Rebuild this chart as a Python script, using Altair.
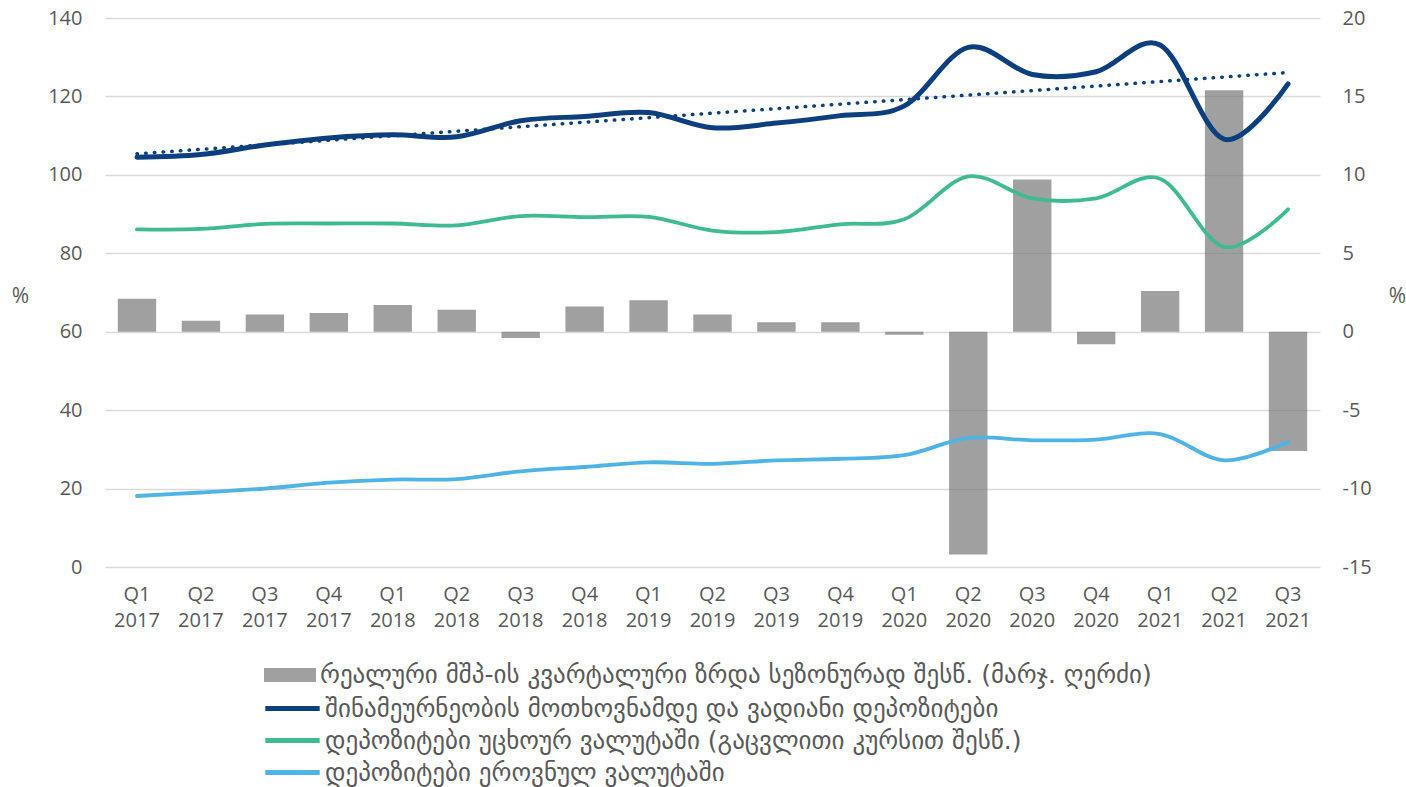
import altair as alt
import numpy as np
import pandas as pd

# Quarters on the horizontal axis
quarters = [
    "Q1 2017", "Q2 2017", "Q3 2017", "Q4 2017",
    "Q1 2018", "Q2 2018", "Q3 2018", "Q4 2018",
    "Q1 2019", "Q2 2019", "Q3 2019", "Q4 2019",
    "Q1 2020", "Q2 2020", "Q3 2020", "Q4 2020",
    "Q1 2021", "Q2 2021", "Q3 2021",
]

# Real GDP quarterly growth, seasonally adjusted (right axis, %)
gdp_growth = [2.1, 0.7, 1.1, 1.2, 1.7, 1.4, -0.4, 1.6, 2.0, 1.1,
              0.6, 0.6, -0.2, -14.2, 9.7, -0.8, 2.6, 15.4, -7.6]

# Deposit series (left axis, %)
dep_total = [104.5, 105.2, 107.6, 109.4, 110.2, 109.7, 113.8, 114.9, 115.9, 112.0,
             113.2, 115.1, 117.6, 132.5, 125.6, 126.3, 133.1, 109.1, 123.2]
dep_fx = [86.1, 86.2, 87.5, 87.6, 87.6, 87.1, 89.5, 89.2, 89.3, 85.8,
          85.4, 87.4, 88.7, 99.6, 94.0, 94.0, 99.0, 81.6, 91.2]
dep_gel = [18.1, 19.0, 20.0, 21.5, 22.3, 22.4, 24.4, 25.5, 26.7, 26.3,
           27.2, 27.6, 28.5, 32.9, 32.3, 32.5, 33.9, 27.2, 31.9]

bar_label = "რეალური მშპ-ის კვარტალური ზრდა სეზონურად შესწ. (მარჯ. ღერძი)"
line_labels = [
    "შინამეურნეობის მოთხოვნამდე და ვადიანი დეპოზიტები",
    "დეპოზიტები უცხოურ ვალუტაში (გაცვლითი კურსით შესწ.)",
    "დეპოზიტები ეროვნულ ვალუტაში",
]
line_colors = ["#0d3f7f", "#3fba93", "#4fb3e6"]

# Linear trend of the total deposits series
idx = np.arange(len(quarters))
slope, intercept = np.polyfit(idx, dep_total, 1)
trend = intercept + slope * idx

bars_df = pd.DataFrame({"quarter": quarters, "value": gdp_growth, "series": bar_label})
lines_df = pd.concat([
    pd.DataFrame({"quarter": quarters, "value": vals, "series": name, "order": i})
    for i, (name, vals) in enumerate(zip(line_labels, [dep_total, dep_fx, dep_gel]))
])
trend_df = pd.DataFrame({"quarter": quarters, "value": trend})

FONT = "Open Sans"
LEGEND_FONT = "DejaVu Sans"
TEXT = "#595959"

x_enc = alt.X(
    "quarter:N",
    sort=quarters,
    scale=alt.Scale(paddingInner=0.4, paddingOuter=0.2),
    axis=alt.Axis(
        title=None, ticks=False, domain=False, grid=False,
        labelAngle=0, labelPadding=17, labelFontSize=20, labelLineHeight=26,
        labelColor=TEXT, labelFont=FONT,
        labelExpr="split(datum.label, ' ')",
    ),
)

bars = alt.Chart(bars_df).mark_bar(opacity=0.72).encode(
    x=x_enc,
    y=alt.Y(
        "value:Q",
        scale=alt.Scale(domain=[-15, 20], nice=False),
        axis=alt.Axis(
            orient="right", values=list(range(-15, 21, 5)), grid=False,
            ticks=False, domain=False, labelPadding=22, labelFontSize=20,
            labelColor=TEXT, labelFont=FONT, labelExpr="'' + datum.value",
            title="%", titleAngle=0, titleX=77, titleY=278, titleFontSize=21,
            titleFontWeight="normal", titleColor=TEXT, titleFont=FONT,
            titleAlign="center", titleBaseline="middle",
        ),
    ),
    fill=alt.Fill(
        "series:N",
        scale=alt.Scale(domain=[bar_label], range=["#7c7c7c"]),
        legend=alt.Legend(
            title=None, orient="none", legendX=169, legendY=641,
            symbolType="M-1.625,-0.44H1.625V0.44H-1.625Z", symbolSize=1024,
            symbolOpacity=0.72, symbolStrokeWidth=0,
            labelFontSize=25, labelColor=TEXT, labelFont=LEGEND_FONT,
            labelOffset=14, labelLimit=0, padding=0,
        ),
    ),
)

lines = alt.Chart(lines_df).mark_line(interpolate="cardinal", strokeCap="round").encode(
    x=x_enc,
    y=alt.Y(
        "value:Q",
        scale=alt.Scale(domain=[0, 140], nice=False),
        axis=alt.Axis(
            orient="left", values=list(range(0, 141, 20)), grid=True,
            gridColor="#d9d9d9", gridWidth=1.5,
            ticks=False, domain=False, labelPadding=23, labelFontSize=20,
            labelColor=TEXT, labelFont=FONT,
            title="%", titleAngle=0, titleX=-85, titleY=278, titleFontSize=21,
            titleFontWeight="normal", titleColor=TEXT, titleFont=FONT,
            titleAlign="center", titleBaseline="middle",
        ),
    ),
    stroke=alt.Stroke(
        "series:N",
        scale=alt.Scale(domain=line_labels, range=line_colors),
        legend=alt.Legend(
            title=None, orient="none", legendX=169, legendY=672,
            symbolType="M-1.7,0H1.7", symbolSize=1024, symbolStrokeWidth=5,
            labelFontSize=25, labelColor=TEXT, labelFont=LEGEND_FONT,
            labelOffset=14, labelLimit=0, rowPadding=0, padding=0,
        ),
    ),
    strokeWidth=alt.condition(
        alt.datum.order == 0, alt.value(5), alt.value(3.8)
    ),
    detail="series:N",
)

trend_line = alt.Chart(trend_df).mark_line(
    color="#0d3f7f", strokeWidth=3.5, strokeDash=[0.5, 8.2], strokeCap="round"
).encode(
    x=x_enc,
    y=alt.Y("value:Q", scale=alt.Scale(domain=[0, 140], nice=False), axis=None),
)

chart = (
    alt.layer(bars, lines, trend_line)
    .resolve_scale(y="independent", fill="independent", stroke="independent")
    .resolve_legend(fill="independent", stroke="independent")
    .properties(
        width=1215, height=549,
        autosize=alt.AutoSizeParams(type="none"),
        padding={"left": 105, "top": 18, "right": 86, "bottom": 220},
    )
    .configure_view(stroke=None)
)

chart.save("out.html", embed_options={"renderer": "svg", "actions": False})
